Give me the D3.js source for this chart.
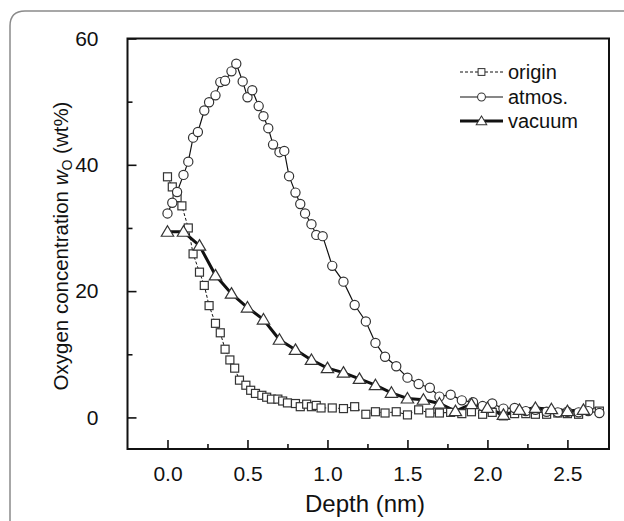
<!DOCTYPE html>
<html>
<head>
<meta charset="utf-8">
<script src="https://cdn.jsdelivr.net/npm/d3@7"></script>
<style>
  body { margin: 0; background: #fff; }
  svg { display: block; font-family: "Liberation Sans", Arial, sans-serif; }
</style>
</head>
<body>
<div id="graph"></div>
<script>
// depth (nm) and oxygen content (wt%)
var originDepth = [0.00,0.03,0.06,0.09,0.13,0.16,0.20,0.23,0.26,0.30,0.33,0.36,0.39,0.42,0.45,0.49,0.52,0.55,0.59,0.62,0.65,0.69,0.72,0.75,0.80,0.83,0.87,0.90,0.93,0.96,1.03,1.10,1.17,1.24,1.30,1.36,1.43,1.50,1.57,1.64,1.70,1.77,1.84,1.90,1.97,2.03,2.10,2.17,2.24,2.30,2.37,2.44,2.50,2.57,2.64,2.70]
var originValue = [38.1,36.5,34.8,33.5,30.0,25.9,23.0,20.9,17.7,14.9,13.4,10.8,9.1,7.8,5.9,5.1,4.3,3.8,3.5,3.2,2.9,2.9,2.6,2.3,2.2,1.7,2.1,1.7,1.9,1.5,1.5,1.4,1.7,0.5,0.9,0.7,0.9,0.4,1.2,0.7,0.7,0.8,0.6,0.9,0.5,0.8,0.25,0.6,0.6,0.5,0.5,0.7,0.6,0.5,2.0,1.0]

var atmosDepth = [0.00,0.03,0.06,0.10,0.13,0.16,0.19,0.23,0.26,0.30,0.33,0.36,0.40,0.43,0.47,0.50,0.53,0.57,0.60,0.63,0.66,0.70,0.73,0.76,0.80,0.83,0.86,0.90,0.93,0.97,1.03,1.10,1.17,1.24,1.30,1.36,1.43,1.50,1.57,1.64,1.70,1.77,1.84,1.91,1.97,2.03,2.10,2.17,2.24,2.30,2.37,2.44,2.50,2.57,2.63,2.70]
var atmosValue = [32.3,34.0,35.7,38.4,40.5,44.3,45.2,48.6,49.9,51.0,53.1,53.3,54.8,56.0,53.2,50.7,51.8,49.3,47.7,45.8,43.2,42.0,42.2,38.2,35.6,33.8,32.3,30.6,28.9,28.7,24.0,21.5,17.8,15.2,11.8,9.6,8.1,6.3,5.3,4.7,3.3,3.6,2.7,2.4,1.8,2.2,1.4,1.5,1.0,1.2,0.9,0.8,0.9,0.8,1.0,0.7]

var vacuumDepth = [0.0,0.1,0.2,0.3,0.4,0.5,0.6,0.7,0.8,0.9,1.0,1.1,1.2,1.3,1.4,1.5,1.6,1.7,1.8,1.9,2.0,2.1,2.2,2.3,2.4,2.5,2.6]
var vacuumValue = [29.4,29.4,27.2,22.5,19.6,17.4,15.5,12.3,10.7,9.1,7.8,7.1,6.1,5.1,3.9,3.0,2.8,2.2,1.0,2.1,1.5,0.4,1.2,1.5,1.3,1.0,1.2]

var seriesNames = ["origin", "atmos.", "vacuum"]
var xTicks = [0, 0.5, 1.0, 1.5, 2.0, 2.5]
var yTicks = [0, 20, 40, 60]

var width = 624, height = 521
var margin = {top: 38.5, left: 127.5, bottom: 72, right: 15}

var svg = d3.select("#graph").append("svg")
    .attr("width", width).attr("height", height)

// card border (rounded top-left corner)
svg.append("path")
    .attr("d", "M10,521 V26 Q10,11 25,11 H624")
    .attr("fill", "none")
    .attr("stroke", "#8a8a8a")
    .attr("stroke-width", 1.5)

var x = d3.scaleLinear().domain([-0.25, 2.76]).range([margin.left, width - margin.right])
var y = d3.scaleLinear().domain([-5, 60]).range([height - margin.bottom, margin.top])

var zip = function(xs, ys) { return xs.map(function(d, i) { return {x: d, y: ys[i]} }) }
var series = [
    {name: seriesNames[0], data: zip(originDepth, originValue), shape: "square", width: 1, dash: "3,2"},
    {name: seriesNames[1], data: zip(atmosDepth, atmosValue), shape: "circle", width: 1.2, dash: null},
    {name: seriesNames[2], data: zip(vacuumDepth, vacuumValue), shape: "triangle", width: 3, dash: null}
]

svg.append("clipPath").attr("id", "plot")
    .append("rect")
    .attr("x", x.range()[0]).attr("y", y.range()[1])
    .attr("width", x.range()[1] - x.range()[0])
    .attr("height", y.range()[0] - y.range()[1])

var plot = svg.append("g").attr("clip-path", "url(#plot)")

var line = d3.line().x(function(d) { return x(d.x) }).y(function(d) { return y(d.y) })

function drawMarker(sel, shape) {
    if (shape == "circle") {
        sel.append("circle").attr("r", 4.6)
    } else if (shape == "square") {
        sel.append("rect").attr("x", -4).attr("y", -4).attr("width", 8).attr("height", 8)
    } else {
        sel.append("path").attr("d", "M0,-6L6.2,4.5L-6.2,4.5Z")
    }
    sel.selectAll("*")
        .attr("fill", "#fff")
        .attr("stroke", "#333")
        .attr("stroke-width", 1.2)
}

// lines first, markers on top
series.forEach(function(s) {
    plot.append("path")
        .datum(s.data)
        .attr("d", line)
        .attr("fill", "none")
        .attr("stroke", "#111")
        .attr("stroke-width", s.width)
        .attr("stroke-dasharray", s.dash)
})
series.forEach(function(s) {
    plot.append("g").selectAll("g")
        .data(s.data)
        .enter().append("g")
        .attr("transform", function(d) { return "translate(" + x(d.x) + "," + y(d.y) + ")" })
        .each(function() { drawMarker(d3.select(this), s.shape) })
})

// frame
svg.append("rect")
    .attr("x", x.range()[0]).attr("y", y.range()[1])
    .attr("width", x.range()[1] - x.range()[0])
    .attr("height", y.range()[0] - y.range()[1])
    .attr("fill", "none")
    .attr("stroke", "#111")
    .attr("stroke-width", 2)

// axes, ticks pointing inward
var xAxis = svg.append("g")
    .attr("transform", "translate(0," + y.range()[0] + ")")
    .call(d3.axisBottom(x).tickValues(xTicks).tickSizeInner(-9).tickSizeOuter(0).tickPadding(17)
        .tickFormat(d3.format(".1f")))
var xMinor = svg.append("g")
    .attr("transform", "translate(0," + y.range()[0] + ")")
    .call(d3.axisBottom(x).tickValues([0.25, 0.75, 1.25, 1.75, 2.25]).tickSizeInner(-5).tickSizeOuter(0).tickFormat(""))

var yAxis = svg.append("g")
    .attr("transform", "translate(" + x.range()[0] + ",0)")
    .call(d3.axisLeft(y).tickValues(yTicks).tickSizeInner(-9).tickSizeOuter(0).tickPadding(29))
var yMinor = svg.append("g")
    .attr("transform", "translate(" + x.range()[0] + ",0)")
    .call(d3.axisLeft(y).tickValues([10, 30, 50]).tickSizeInner(-5).tickSizeOuter(0).tickFormat(""))

;[xAxis, xMinor, yAxis, yMinor].forEach(function(a) {
    a.select(".domain").remove()
    a.selectAll("line").attr("stroke", "#111").attr("stroke-width", 1.6)
    a.selectAll("text").attr("fill", "#111").attr("font-size", "21px")
        .attr("font-family", "Liberation Sans, Arial, sans-serif")
})

// axis titles
svg.append("text")
    .attr("x", 365).attr("y", 512)
    .attr("text-anchor", "middle")
    .attr("font-size", "24px")
    .attr("fill", "#111")
    .text("Depth (nm)")

var yLabel = svg.append("text")
    .attr("transform", "translate(68,246) rotate(-90)")
    .attr("text-anchor", "middle")
    .attr("font-size", "20.5px")
    .attr("fill", "#111")
yLabel.append("tspan").text("Oxygen concentration ")
yLabel.append("tspan").attr("font-style", "italic").text("w")
yLabel.append("tspan").attr("font-size", "14px").attr("dy", 4).text("O")
yLabel.append("tspan").attr("dy", -4).text(" (wt%)")

// legend
var legend = svg.append("g")
var legendY = [72, 97, 121]
series.forEach(function(s, i) {
    var g = legend.append("g").attr("transform", "translate(0," + legendY[i] + ")")
    g.append("line")
        .attr("x1", 460).attr("x2", 503)
        .attr("stroke", "#111")
        .attr("stroke-width", s.width)
        .attr("stroke-dasharray", s.dash)
    var m = g.append("g").attr("transform", "translate(481.5,0)")
    drawMarker(m, s.shape)
    m.selectAll("*").attr("transform", "scale(0.85)")
    g.append("text")
        .attr("x", 508).attr("dy", "0.35em")
        .attr("font-size", "20px")
        .attr("fill", "#111")
        .text(s.name)
})
</script>
</body>
</html>
